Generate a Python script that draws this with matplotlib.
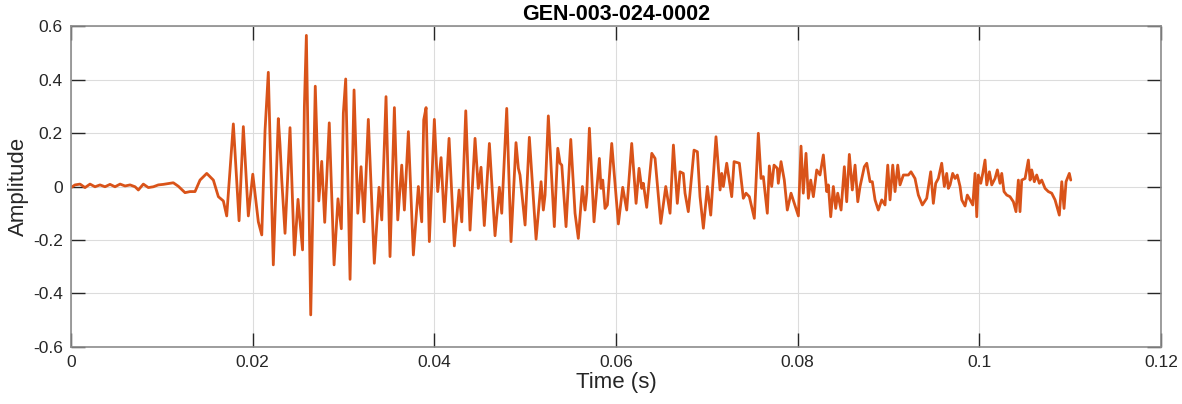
import matplotlib
matplotlib.use("Agg")
import matplotlib.pyplot as plt

# --- waveform (time in s, amplitude) ---
time_s = [
    0.00000, 0.00044, 0.00099, 0.00154, 0.00209, 0.00264, 0.00319, 0.00374,
    0.00429, 0.00484, 0.00540, 0.00595, 0.00650, 0.00705, 0.00741, 0.00796,
    0.00851, 0.00906, 0.00961, 0.01016, 0.01071, 0.01126, 0.01181, 0.01255,
    0.01310, 0.01365, 0.01420, 0.01494, 0.01567, 0.01622, 0.01677, 0.01714,
    0.01787, 0.01850, 0.01897, 0.01952, 0.02001, 0.02062, 0.02100, 0.02136,
    0.02172, 0.02227, 0.02282, 0.02301, 0.02320, 0.02356, 0.02411, 0.02459,
    0.02499, 0.02549, 0.02569, 0.02591, 0.02639, 0.02689, 0.02728, 0.02760,
    0.02793, 0.02843, 0.02896, 0.02939, 0.02976, 0.02998, 0.03024, 0.03072,
    0.03116, 0.03157, 0.03193, 0.03226, 0.03273, 0.03339, 0.03391, 0.03421,
    0.03468, 0.03512, 0.03560, 0.03597, 0.03641, 0.03670, 0.03714, 0.03769,
    0.03824, 0.03861, 0.03883, 0.03909, 0.03945, 0.04000, 0.04037, 0.04074,
    0.04110, 0.04162, 0.04220, 0.04272, 0.04302, 0.04346, 0.04393, 0.04448,
    0.04484, 0.04514, 0.04550, 0.04606, 0.04668, 0.04716, 0.04742, 0.04797,
    0.04844, 0.04899, 0.04925, 0.04943, 0.04999, 0.05046, 0.05120, 0.05175,
    0.05200, 0.05219, 0.05255, 0.05321, 0.05359, 0.05384, 0.05403, 0.05450,
    0.05502, 0.05549, 0.05585, 0.05630, 0.05659, 0.05678, 0.05707, 0.05758,
    0.05817, 0.05835, 0.05854, 0.05879, 0.05905, 0.05953, 0.06026, 0.06074,
    0.06118, 0.06173, 0.06221, 0.06254, 0.06283, 0.06301, 0.06338, 0.06394,
    0.06430, 0.06493, 0.06548, 0.06595, 0.06632, 0.06675, 0.06705, 0.06741,
    0.06760, 0.06796, 0.06859, 0.06896, 0.06925, 0.06962, 0.07006, 0.07043,
    0.07101, 0.07146, 0.07164, 0.07182, 0.07219, 0.07274, 0.07300, 0.07358,
    0.07402, 0.07432, 0.07468, 0.07523, 0.07567, 0.07597, 0.07622, 0.07666,
    0.07688, 0.07714, 0.07740, 0.07776, 0.07787, 0.07817, 0.07853, 0.07886,
    0.07927, 0.07963, 0.08008, 0.08037, 0.08062, 0.08092, 0.08118, 0.08144,
    0.08173, 0.08210, 0.08246, 0.08283, 0.08320, 0.08338, 0.08364, 0.08393,
    0.08419, 0.08441, 0.08478, 0.08514, 0.08540, 0.08569, 0.08602, 0.08632,
    0.08662, 0.08687, 0.08734, 0.08761, 0.08797, 0.08822, 0.08852, 0.08888,
    0.08926, 0.08962, 0.08992, 0.09017, 0.09047, 0.09072, 0.09102, 0.09127,
    0.09164, 0.09219, 0.09248, 0.09292, 0.09329, 0.09373, 0.09421, 0.09465,
    0.09494, 0.09520, 0.09549, 0.09586, 0.09615, 0.09641, 0.09659, 0.09678,
    0.09707, 0.09733, 0.09758, 0.09788, 0.09807, 0.09843, 0.09868, 0.09898,
    0.09928, 0.09953, 0.09972, 0.09989, 0.10016, 0.10038, 0.10063, 0.10082,
    0.10111, 0.10137, 0.10173, 0.10199, 0.10228, 0.10247, 0.10272, 0.10302,
    0.10338, 0.10375, 0.10404, 0.10430, 0.10448, 0.10467, 0.10504, 0.10540,
    0.10559, 0.10577, 0.10606, 0.10632, 0.10661, 0.10687, 0.10724, 0.10760,
    0.10797, 0.10834, 0.10881, 0.10908, 0.10933, 0.10955, 0.10991, 0.11007,
]

amplitude = [
    -0.004, 0.006, 0.009, -0.004, 0.009, -0.001, 0.006, -0.001,
    0.008, -0.001, 0.009, 0.002, 0.006, -0.001, -0.013, 0.009,
    -0.004, -0.001, 0.006, 0.008, 0.011, 0.014, 0.001, -0.023,
    -0.019, -0.019, 0.024, 0.049, 0.024, -0.038, -0.054, -0.110,
    0.234, -0.128, 0.224, -0.110, 0.046, -0.132, -0.181, 0.210,
    0.427, -0.293, 0.254, 0.155, 0.024, -0.175, 0.220, -0.256,
    -0.048, -0.237, 0.298, 0.565, -0.480, 0.375, -0.054, 0.094,
    -0.134, 0.238, -0.293, -0.046, -0.158, 0.274, 0.402, -0.347,
    0.361, -0.100, 0.074, -0.132, 0.251, -0.287, -0.003, -0.125,
    0.336, -0.262, 0.295, -0.125, 0.080, -0.088, 0.205, -0.256,
    0.000, -0.132, 0.249, 0.295, -0.206, 0.251, -0.019, 0.108,
    -0.132, 0.180, -0.222, -0.013, -0.132, 0.283, -0.163, 0.180,
    -0.007, 0.072, -0.146, 0.161, -0.184, -0.003, -0.100, 0.292,
    -0.206, 0.164, 0.068, 0.043, -0.144, 0.184, -0.197, 0.018,
    -0.088, -0.032, 0.264, -0.150, 0.143, 0.087, 0.080, -0.150,
    0.176, -0.100, -0.194, 0.000, -0.088, -0.025, 0.218, -0.132,
    0.105, -0.007, 0.024, -0.082, -0.069, 0.161, -0.140, -0.003,
    -0.088, 0.161, -0.063, 0.068, -0.007, 0.012, -0.078, 0.124,
    0.105, -0.138, 0.000, -0.100, 0.155, -0.063, 0.055, 0.049,
    -0.025, -0.094, 0.136, 0.130, -0.038, -0.156, 0.000, -0.107,
    0.186, -0.013, 0.049, 0.000, 0.087, -0.038, 0.093, 0.087,
    -0.044, -0.025, -0.038, -0.119, 0.199, 0.030, 0.037, -0.100,
    0.077, 0.000, 0.080, 0.068, 0.012, 0.093, 0.024, -0.088,
    -0.025, -0.063, -0.110, 0.151, -0.025, 0.124, -0.044, 0.024,
    -0.038, 0.062, 0.043, 0.118, -0.019, 0.006, -0.113, 0.000,
    -0.082, -0.025, -0.088, 0.074, -0.057, 0.120, -0.013, 0.080,
    -0.057, 0.000, 0.074, 0.087, 0.018, 0.018, -0.050, -0.088,
    -0.050, -0.069, 0.080, -0.050, 0.080, -0.019, 0.080, 0.006,
    0.043, 0.043, 0.055, 0.030, -0.032, -0.069, -0.044, 0.055,
    -0.063, 0.012, 0.030, 0.087, 0.000, 0.049, -0.007, 0.006,
    0.049, 0.030, 0.043, 0.000, -0.050, -0.073, -0.032, -0.050,
    -0.069, 0.049, -0.113, 0.043, 0.012, 0.049, 0.099, 0.006,
    0.055, 0.006, 0.030, 0.062, 0.012, 0.049, -0.019, -0.032,
    -0.038, -0.057, -0.094, 0.024, -0.094, 0.024, 0.030, 0.099,
    0.024, 0.062, 0.018, 0.043, 0.012, 0.024, -0.007, -0.019,
    -0.025, -0.050, -0.107, 0.018, -0.082, 0.018, 0.049, 0.024,
]

x_ticks = [0, 0.02, 0.04, 0.06, 0.08, 0.1, 0.12]
y_ticks = [-0.6, -0.4, -0.2, 0, 0.2, 0.4, 0.6]

plt.rcParams['font.family'] = ['Liberation Sans', 'DejaVu Sans']
plt.rcParams['axes.unicode_minus'] = False

text_col = '#262626'

fig = plt.figure(figsize=(11.82, 4.04), dpi=100)
ax = fig.add_axes([0.0601, 0.1411, 0.9221, 0.7945])

ax.plot(time_s, amplitude, color='#D95319', lw=2.0,
        solid_joinstyle='round', solid_capstyle='round')

ax.set_xlim(0, 0.12)
ax.set_ylim(-0.6, 0.6)
ax.set_xticks(x_ticks)
ax.set_xticklabels(['%g' % v for v in x_ticks])
ax.set_yticks(y_ticks)
ax.set_yticklabels(['%g' % v for v in y_ticks])

ax.grid(True, color='#dcdcdc', lw=0.8)
ax.set_axisbelow(True)
for s in ax.spines.values():
    s.set_color('#8c8c8c')
    s.set_linewidth(1.2)
ax.tick_params(direction='in', length=10, width=1, color=text_col,
               top=True, right=True, labelsize=12.5, labelcolor=text_col, pad=6)

ax.set_xlabel('Time (s)', fontsize=16, color=text_col, labelpad=1)
ax.set_ylabel('Amplitude', fontsize=16, color=text_col, labelpad=3)
ax.set_title('GEN-003-024-0002', fontsize=15.5, fontweight='bold', color='black', pad=4)

fig.savefig('out.png', dpi=100)
